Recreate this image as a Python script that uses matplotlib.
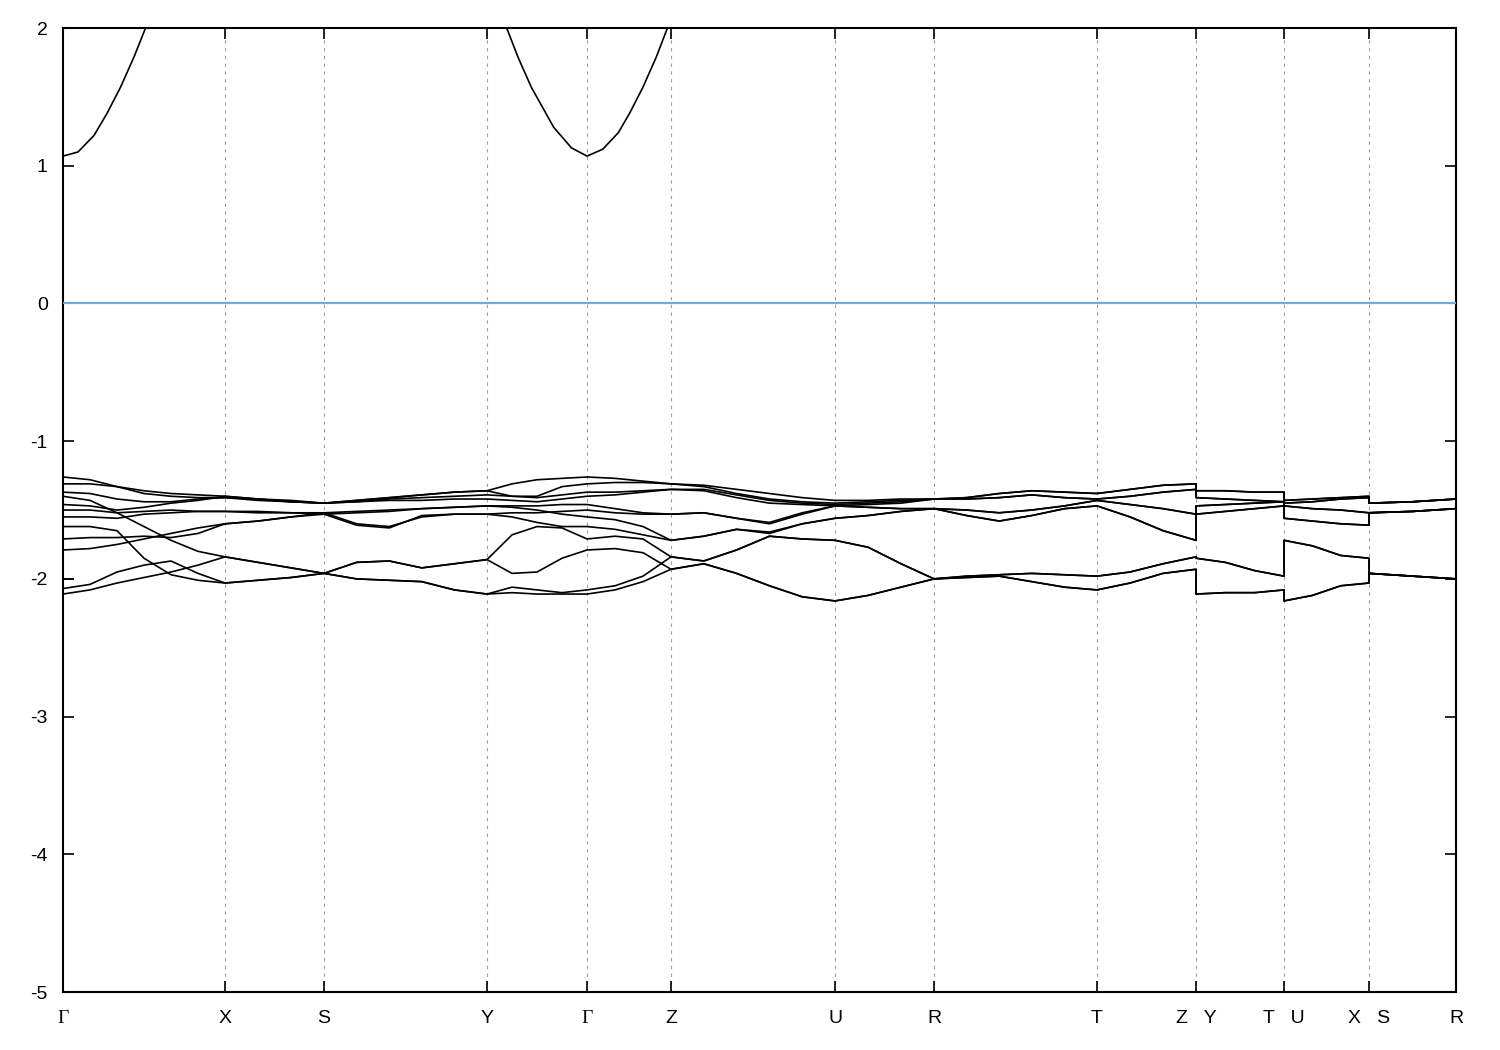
import numpy as np
import matplotlib
matplotlib.use("Agg")
import matplotlib.pyplot as plt

plt.rcParams["font.family"] = ["Liberation Sans", "DejaVu Sans"]
plt.rcParams["axes.unicode_minus"] = False

# ---------- k-path (path length, arbitrary units) ----------
K_POS = [0.0, 1.62, 2.61, 4.24, 5.24, 6.08, 7.72, 8.71, 10.34, 11.33, 12.21, 13.06, 13.93]
K_LABELS = ["Γ", "X", "S", "Y", "Γ", "Z", "U", "R", "T", "Z   Y", "T   U", "X   S", "R"]

# ---------- valence bands, energies (eV) sampled evenly along each segment ----------
# rows = band 1..12
GX = [
    [-1.26, -1.28, -1.33, -1.38, -1.40, -1.41, -1.41],
    [-1.31, -1.31, -1.33, -1.36, -1.38, -1.39, -1.40],
    [-1.40, -1.43, -1.52, -1.62, -1.72, -1.80, -1.84],
    [-1.37, -1.38, -1.42, -1.44, -1.44, -1.42, -1.41],
    [-1.46, -1.47, -1.50, -1.48, -1.45, -1.43, -1.40],
    [-1.50, -1.50, -1.52, -1.51, -1.50, -1.51, -1.51],
    [-1.55, -1.55, -1.56, -1.53, -1.52, -1.51, -1.51],
    [-1.62, -1.62, -1.65, -1.85, -1.97, -2.01, -2.03],
    [-1.71, -1.70, -1.70, -1.69, -1.70, -1.67, -1.60],
    [-1.79, -1.78, -1.75, -1.71, -1.67, -1.63, -1.60],
    [-2.07, -2.04, -1.95, -1.90, -1.87, -1.96, -2.03],
    [-2.11, -2.08, -2.03, -1.99, -1.95, -1.90, -1.84],
]
XS = [
    [-1.41, -1.42, -1.44, -1.45],
    [-1.40, -1.42, -1.43, -1.45],
    [-1.84, -1.88, -1.92, -1.96],
    [-1.41, -1.43, -1.44, -1.45],
    [-1.40, -1.42, -1.44, -1.45],
    [-1.51, -1.51, -1.52, -1.52],
    [-1.51, -1.52, -1.52, -1.53],
    [-2.03, -2.01, -1.99, -1.96],
    [-1.60, -1.58, -1.55, -1.53],
    [-1.60, -1.58, -1.55, -1.52],
    [-2.03, -2.01, -1.99, -1.96],
    [-1.84, -1.88, -1.92, -1.96],
]
SY = [
    [-1.45, -1.43, -1.41, -1.39, -1.37, -1.36],
    [-1.45, -1.43, -1.41, -1.39, -1.37, -1.36],
    [-1.96, -1.88, -1.87, -1.92, -1.89, -1.86],
    [-1.45, -1.44, -1.42, -1.41, -1.40, -1.39],
    [-1.45, -1.44, -1.43, -1.43, -1.42, -1.42],
    [-1.52, -1.51, -1.50, -1.49, -1.48, -1.47],
    [-1.53, -1.52, -1.51, -1.49, -1.48, -1.47],
    [-1.96, -2.00, -2.01, -2.02, -2.08, -2.11],
    [-1.53, -1.61, -1.63, -1.54, -1.53, -1.53],
    [-1.52, -1.60, -1.62, -1.55, -1.53, -1.53],
    [-1.96, -2.00, -2.01, -2.02, -2.08, -2.11],
    [-1.96, -1.88, -1.87, -1.92, -1.89, -1.86],
]
YG = [
    [-1.36, -1.31, -1.28, -1.27, -1.26],
    [-1.36, -1.40, -1.40, -1.33, -1.31],
    [-1.86, -1.68, -1.62, -1.63, -1.71],
    [-1.39, -1.40, -1.41, -1.39, -1.37],
    [-1.42, -1.43, -1.44, -1.42, -1.40],
    [-1.47, -1.47, -1.47, -1.46, -1.46],
    [-1.47, -1.48, -1.50, -1.53, -1.55],
    [-2.11, -2.06, -2.08, -2.10, -2.08],
    [-1.53, -1.52, -1.52, -1.51, -1.50],
    [-1.53, -1.55, -1.59, -1.62, -1.62],
    [-2.11, -2.10, -2.11, -2.11, -2.11],
    [-1.86, -1.96, -1.95, -1.85, -1.79],
]
GZ = [
    [-1.26, -1.27, -1.29, -1.31],
    [-1.31, -1.30, -1.30, -1.31],
    [-1.71, -1.69, -1.71, -1.84],
    [-1.37, -1.37, -1.36, -1.35],
    [-1.40, -1.39, -1.37, -1.35],
    [-1.46, -1.49, -1.52, -1.53],
    [-1.55, -1.57, -1.62, -1.72],
    [-2.08, -2.05, -1.98, -1.84],
    [-1.50, -1.52, -1.53, -1.53],
    [-1.62, -1.64, -1.68, -1.72],
    [-2.11, -2.08, -2.02, -1.93],
    [-1.79, -1.78, -1.81, -1.93],
]
ZU = [
    [-1.31, -1.32, -1.35, -1.38, -1.41, -1.43],
    [-1.31, -1.33, -1.38, -1.42, -1.44, -1.45],
    [-1.84, -1.87, -1.79, -1.69, -1.71, -1.72],
    [-1.35, -1.35, -1.39, -1.43, -1.45, -1.46],
    [-1.35, -1.36, -1.41, -1.45, -1.46, -1.47],
    [-1.53, -1.52, -1.56, -1.60, -1.53, -1.47],
    [-1.72, -1.69, -1.64, -1.67, -1.60, -1.56],
    [-1.84, -1.87, -1.79, -1.69, -1.71, -1.72],
    [-1.53, -1.52, -1.56, -1.59, -1.52, -1.47],
    [-1.72, -1.69, -1.64, -1.66, -1.60, -1.56],
    [-1.93, -1.89, -1.96, -2.05, -2.13, -2.16],
    [-1.93, -1.89, -1.96, -2.05, -2.13, -2.16],
]
UR = [
    [-1.43, -1.43, -1.42, -1.42],
    [-1.45, -1.44, -1.43, -1.42],
    [-1.72, -1.77, -1.89, -2.00],
    [-1.46, -1.45, -1.44, -1.42],
    [-1.47, -1.46, -1.45, -1.42],
    [-1.47, -1.48, -1.49, -1.49],
    [-1.56, -1.54, -1.51, -1.49],
    [-1.72, -1.77, -1.89, -2.00],
    [-1.47, -1.48, -1.49, -1.49],
    [-1.56, -1.54, -1.51, -1.49],
    [-2.16, -2.12, -2.06, -2.00],
    [-2.16, -2.12, -2.06, -2.00],
]
RT = [
    [-1.42, -1.41, -1.38, -1.36, -1.37, -1.38],
    [-1.42, -1.42, -1.41, -1.39, -1.41, -1.42],
    [-2.00, -1.98, -1.97, -1.96, -1.97, -1.98],
    [-1.42, -1.41, -1.38, -1.36, -1.37, -1.38],
    [-1.42, -1.42, -1.41, -1.39, -1.41, -1.42],
    [-1.49, -1.50, -1.52, -1.50, -1.47, -1.43],
    [-1.49, -1.54, -1.58, -1.54, -1.49, -1.47],
    [-2.00, -1.98, -1.97, -1.96, -1.97, -1.98],
    [-1.49, -1.50, -1.52, -1.50, -1.47, -1.43],
    [-1.49, -1.54, -1.58, -1.54, -1.49, -1.47],
    [-2.00, -1.99, -1.98, -2.02, -2.06, -2.08],
    [-2.00, -1.99, -1.98, -2.02, -2.06, -2.08],
]
TZ = [
    [-1.38, -1.35, -1.32, -1.31],
    [-1.42, -1.40, -1.37, -1.35],
    [-1.98, -1.95, -1.89, -1.84],
    [-1.38, -1.35, -1.32, -1.31],
    [-1.42, -1.40, -1.37, -1.35],
    [-1.43, -1.46, -1.49, -1.53],
    [-1.47, -1.55, -1.65, -1.72],
    [-1.98, -1.95, -1.89, -1.84],
    [-1.43, -1.46, -1.49, -1.53],
    [-1.47, -1.55, -1.65, -1.72],
    [-2.08, -2.03, -1.96, -1.93],
    [-2.08, -2.03, -1.96, -1.93],
]
YT = [
    [-1.41, -1.42, -1.43, -1.44],
    [-1.36, -1.36, -1.37, -1.37],
    [-1.85, -1.88, -1.94, -1.98],
    [-1.41, -1.42, -1.43, -1.44],
    [-1.36, -1.36, -1.37, -1.37],
    [-1.53, -1.51, -1.49, -1.47],
    [-1.47, -1.46, -1.45, -1.44],
    [-1.85, -1.88, -1.94, -1.98],
    [-1.53, -1.51, -1.49, -1.47],
    [-1.47, -1.46, -1.45, -1.44],
    [-2.11, -2.10, -2.10, -2.08],
    [-2.11, -2.10, -2.10, -2.08],
]
UX = [
    [-1.45, -1.44, -1.42, -1.41],
    [-1.43, -1.42, -1.41, -1.40],
    [-1.72, -1.76, -1.83, -1.85],
    [-1.45, -1.44, -1.42, -1.41],
    [-1.43, -1.42, -1.41, -1.40],
    [-1.56, -1.58, -1.60, -1.61],
    [-1.47, -1.49, -1.50, -1.52],
    [-1.72, -1.76, -1.83, -1.85],
    [-1.56, -1.58, -1.60, -1.61],
    [-1.47, -1.49, -1.50, -1.52],
    [-2.16, -2.12, -2.05, -2.03],
    [-2.16, -2.12, -2.05, -2.03],
]
SR = [
    [-1.45, -1.44, -1.42],
    [-1.45, -1.44, -1.42],
    [-1.96, -1.98, -2.00],
    [-1.45, -1.44, -1.42],
    [-1.45, -1.44, -1.42],
    [-1.52, -1.51, -1.49],
    [-1.52, -1.51, -1.49],
    [-1.96, -1.98, -2.00],
    [-1.52, -1.51, -1.49],
    [-1.52, -1.51, -1.49],
    [-1.96, -1.98, -2.00],
    [-1.96, -1.98, -2.00],
]

# (start k index, end k index, band table)
SEGMENTS = [(0, 1, GX), (1, 2, XS), (2, 3, SY), (3, 4, YG), (4, 5, GZ), (5, 6, ZU),
            (6, 7, UR), (7, 8, RT), (8, 9, TZ), (9, 10, YT), (10, 11, UX), (11, 12, SR)]

# ---------- conduction band (clipped at 2 eV) ----------
CB1_K = [0.0, 0.15, 0.31, 0.44, 0.575, 0.71, 0.82, 0.95]
CB1_E = [1.07, 1.10, 1.22, 1.38, 1.57, 1.79, 1.99, 2.25]
CB2_K = [4.32, 4.437, 4.549, 4.683, 4.906, 5.084, 5.24, 5.397, 5.553, 5.665, 5.799, 5.933, 6.044, 6.17]
CB2_E = [2.30, 2.00, 1.79, 1.57, 1.28, 1.13, 1.07, 1.12, 1.24, 1.38, 1.57, 1.79, 2.00, 2.30]

# short stray segment at Gamma
STUB_K = [0.0, 0.10]
STUB_E = [-2.0, -2.0]

E_FERMI = 0.0

# ---------- plot ----------
fig = plt.figure(figsize=(15, 10.5), dpi=100)
ax = fig.add_axes([0.042, 0.0552, 0.9287, 0.9181])

n_bands = len(GX)
for b in range(n_bands):
    ks, es = [], []
    for i0, i1, table in SEGMENTS:
        vals = table[b]
        ks.extend(np.linspace(K_POS[i0], K_POS[i1], len(vals)))
        es.extend(vals)
    ax.plot(ks, es, color="black", lw=1.2, solid_joinstyle="round")

ax.plot(CB1_K, CB1_E, color="black", lw=1.2)
ax.plot(CB2_K, CB2_E, color="black", lw=1.2)
ax.plot(STUB_K, STUB_E, color="black", lw=1.2)

ax.axhline(E_FERMI, color="#56b4e9", lw=1.6, zorder=3)

for kp in K_POS[1:-1]:
    ax.axvline(kp, color="#a0a0a0", lw=0.8, ls=(0, (3, 4)), zorder=0)

ax.set_xlim(K_POS[0], K_POS[-1])
ax.set_ylim(-5, 2)
ax.set_xticks(K_POS)
ax.set_xticklabels(K_LABELS)
for lab in ax.get_xticklabels():
    if lab.get_text() == "Γ":
        lab.set_fontfamily(["Liberation Serif", "DejaVu Serif"])
        lab.set_fontsize(15)
ax.set_yticks(range(-5, 3))
ax.set_yticklabels([str(v) for v in range(-5, 3)])

ax.tick_params(axis="both", direction="in", length=8, width=1.2, labelsize=14,
               top=True, right=True)
ax.tick_params(axis="x", pad=13)
ax.tick_params(axis="y", pad=11)
for sp in ax.spines.values():
    sp.set_linewidth(1.5)

fig.savefig("out.png", dpi=100)
